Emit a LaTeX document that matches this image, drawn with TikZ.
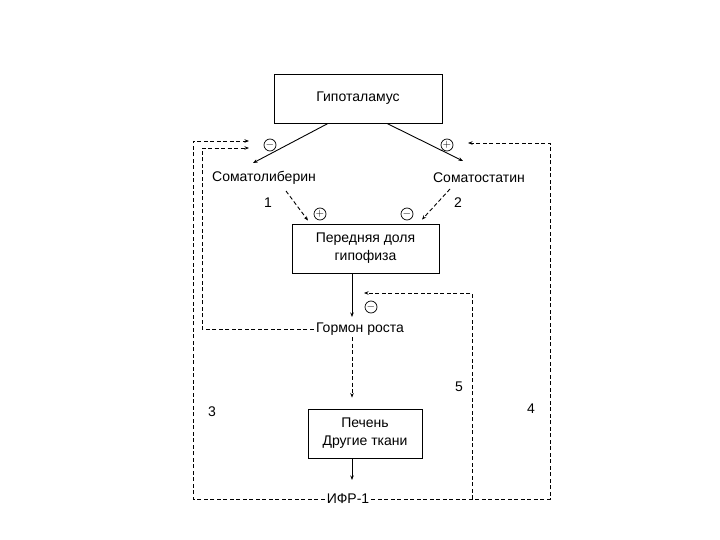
\documentclass[tikz,border=0pt]{standalone}
\usepackage{fontspec}
\setmainfont{Liberation Sans}
\usetikzlibrary{arrows.meta}
\begin{document}
\begin{tikzpicture}[x=1pt,y=-1pt,
  box/.style={draw,line width=0.9pt,inner sep=0pt,align=center,font=\fontsize{14}{18}\selectfont},
  lbl/.style={inner sep=2pt,font=\fontsize{14}{16}\selectfont},
  num/.style={inner sep=0pt,font=\fontsize{14}{16}\selectfont},
  sign/.style={draw,circle,inner sep=0pt,minimum size=12pt,line width=0.7pt,font=\fontsize{11}{11}\selectfont},
  conn/.style={line width=0.9pt,-{Stealth[length=4.5pt,width=3.5pt]}},
  dconn/.style={conn,dash pattern=on 4pt off 2.5pt}]
\useasboundingbox (0,0) rectangle (720,540);

% boxes
\node[box,minimum width=168pt,minimum height=49pt] (hyp) at (358,98.5) {Гипоталамус};
\node[box,minimum width=147pt,minimum height=49pt] (pit) at (365.5,248.5) {Передняя доля\\гипофиза};
\node[box,minimum width=114pt,minimum height=49pt] (liv) at (365,433.5) {Печень\\Другие ткани};

% labels
\node[lbl] (slib) at (264,178) {Соматолиберин};
\node[lbl] (sstat) at (479,178) {Соматостатин};
\node[lbl] (gr) at (360,329) {Гормон роста};
\node[lbl] (ifr) at (348,499) {ИФР-1};

\node[num] (n1) at (268,203) {1};
\node[num] (n2) at (458,203) {2};
\node[num] (n3) at (212,412) {3};
\node[num] (n4) at (531,409) {4};
\node[num] (n5) at (459,387) {5};

% signs
\node[sign] (s1) at (270,145) {$-$};
\node[sign] (s2) at (447,145) {$+$};
\node[sign] (s3) at (320,214) {$+$};
\node[sign] (s4) at (407,214) {$-$};
\node[sign] (s5) at (371,307) {$-$};

% solid connectors
\draw[conn] ([xshift=-30pt]hyp.south) -- ([shift={(-11,-15)}]slib.center);
\draw[conn] ([xshift=29pt]hyp.south) -- ([shift={(-16,-17)}]sstat.center);
\draw[conn] ([xshift=-13.5pt]pit.south) -- ([shift={(-8,-12)}]gr.center);
\draw[conn] ([xshift=-13pt]liv.south) -- ([shift={(4,-19)}]ifr.center);

% dashed connectors
\draw[dconn] ([shift={(22,13)}]slib.center) -- ([shift={(-57.5,-3)}]pit.north);
\draw[dconn] ([shift={(-29,11)}]sstat.center) -- ([shift={(56.5,-4)}]pit.north);
\draw[dconn] ([shift={(-8,8)}]gr.center) -- ([shift={(-13,-11)}]liv.north);

% feedback loops
\coordinate (c3a) at (193,499);
\coordinate (c3b) at (193,141);
\coordinate (gra) at (202,329);
\coordinate (grb) at (202,148);
\coordinate (c4a) at (550,499);
\coordinate (c4b) at (550,143);
\coordinate (c5a) at (472,499);
\coordinate (c5b) at (472,293);

\draw[dconn] (ifr.west) -- (c3a) -- (c3b) -- ([shift={(-21,-4)}]s1.center);
\draw[dconn] (gr.west) -- (gra) -- (grb) -- ([shift={(-21,3)}]s1.center);
\draw[dconn] (ifr.east) -- (c4a) -- (c4b) -- ([shift={(21,-2)}]s2.center);
\draw[dconn] (c5a) -- (c5b) -- ([shift={(-7,-14)}]s5.center);
\end{tikzpicture}
\end{document}
